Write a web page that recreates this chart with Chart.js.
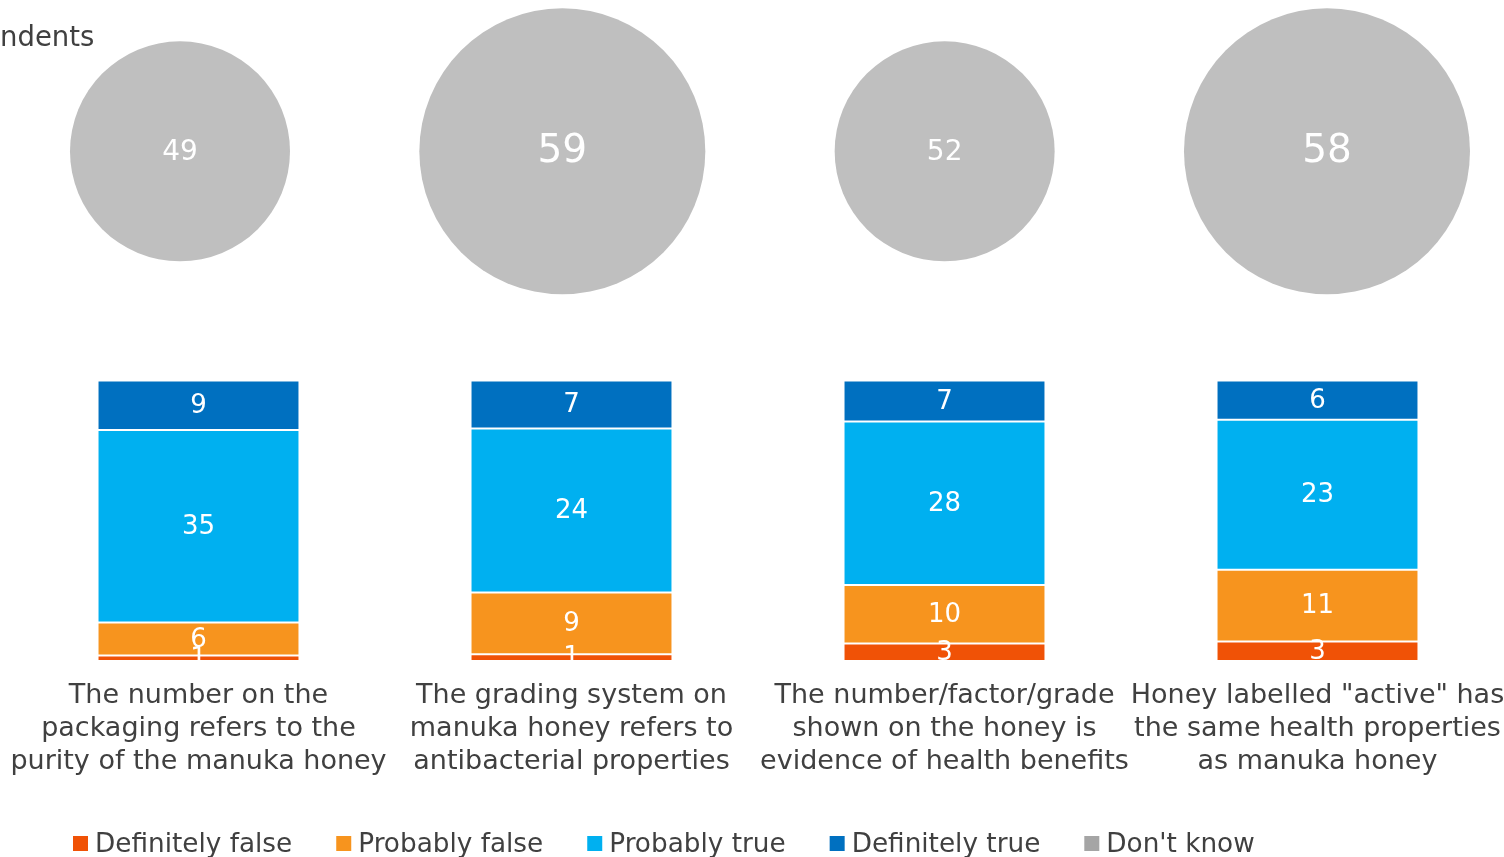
<!DOCTYPE html>
<html>
<head>
<meta charset="utf-8">
<script src="https://cdn.jsdelivr.net/npm/chart.js@4.4.1/dist/chart.umd.min.js"></script>
<style>
  html, body { margin: 0; padding: 0; background: #fff; overflow: hidden; }
  #wrap { width: 1504px; height: 857px; }
</style>
</head>
<body>
<div id="wrap"><canvas id="chart" width="1504" height="857"></canvas></div>
<script>
// statements (x axis categories)
let statements = [
  ['The number on the', 'packaging refers to the', 'purity of the manuka honey'],
  ['The grading system on', 'manuka honey refers to', 'antibacterial properties'],
  ['The number/factor/grade', 'shown on the honey is', 'evidence of health benefits'],
  ['Honey labelled "active" has', 'the same health properties', 'as manuka honey']
];

// answers, number of respondents
let definitelyFalse = [1, 1, 3, 3];
let probablyFalse = [6, 9, 10, 11];
let probablyTrue = [35, 24, 28, 23];
let definitelyTrue = [9, 7, 7, 6];
let dontKnow = [49, 59, 52, 58];

let seriesNames = ['Definitely false', 'Probably false', 'Probably true', 'Definitely true', "Don't know"];
let axisTitle = 'ndents';

const FONT = "'DejaVu Sans', Verdana, sans-serif";
const TEXT = '#404040';

// bars are drawn as share of the "known" answers (100% stacked)
let totals = statements.map((s, i) => definitelyFalse[i] + probablyFalse[i] + probablyTrue[i] + definitelyTrue[i]);
let pct = arr => arr.map((v, i) => v / totals[i] * 100);

// bubble size: two size classes like the original
let circleRadius = v => v >= 55 ? 143 : 110;

function barSet(name, counts, color) {
  return {
    label: name,
    data: pct(counts),
    counts: counts,
    backgroundColor: color,
    borderColor: 'rgba(255,255,255,0.3)',
    borderWidth: 1,
    borderSkipped: false,
    grouped: false,
    categoryPercentage: 1,
    barPercentage: 0.5414,
    xAxisID: 'x',
    yAxisID: 'y'
  };
}

// white numbers on bars and circles
let valueLabels = {
  id: 'valueLabels',
  afterDatasetsDraw(chart) {
    let ctx = chart.ctx;
    let area = chart.chartArea;
    ctx.save();
    ctx.fillStyle = '#fff';
    ctx.textAlign = 'center';
    ctx.textBaseline = 'middle';
    chart.data.datasets.forEach((ds, di) => {
      let meta = chart.getDatasetMeta(di);
      meta.data.forEach((el, i) => {
        if (ds.type === 'bubble') {
          let r = el.options.radius;
          ctx.font = Math.round(28 + (r - 110) / 3) + 'px ' + FONT;
          ctx.fillText(ds.counts[i], el.x, el.y + 1);
        } else {
          ctx.save();
          ctx.beginPath();
          ctx.rect(area.left, area.top, area.right - area.left, area.bottom - area.top);
          ctx.clip();
          ctx.font = '26px ' + FONT;
          ctx.fillText(ds.counts[i], el.x, (el.y + el.base) / 2 + 1);
          ctx.restore();
        }
      });
    });
    ctx.restore();
  }
};

// legend row + cut-off axis title
let bottomLegend = {
  id: 'bottomLegend',
  afterDraw(chart) {
    let ctx = chart.ctx;
    ctx.save();
    ctx.font = '26.3px ' + FONT;
    ctx.textBaseline = 'alphabetic';
    ctx.textAlign = 'left';
    let x = 73;
    chart.data.datasets.forEach(ds => {
      ctx.fillStyle = ds.legendColor || ds.backgroundColor;
      ctx.fillRect(x, 836, 15, 15);
      ctx.fillStyle = TEXT;
      ctx.fillText(ds.label, x + 22, 852);
      x += 22 + ctx.measureText(ds.label).width + 44;
    });
    ctx.font = '27.5px ' + FONT;
    ctx.textBaseline = 'middle';
    ctx.fillText(axisTitle, 0, 39);
    ctx.restore();
  }
};

let chart = new Chart(document.getElementById('chart'), {
  type: 'bar',
  data: {
    labels: statements,
    datasets: [
      barSet(seriesNames[0], definitelyFalse, '#F05206'),
      barSet(seriesNames[1], probablyFalse, '#F7941E'),
      barSet(seriesNames[2], probablyTrue, '#00B0F0'),
      barSet(seriesNames[3], definitelyTrue, '#0070C0'),
      {
        type: 'bubble',
        label: seriesNames[4],
        data: dontKnow.map((v, i) => ({ x: i, y: 0.771 })),
        counts: dontKnow,
        backgroundColor: '#BFBFBF',
        legendColor: '#A5A5A5',
        borderWidth: 0,
        radius: ctx => circleRadius(dontKnow[ctx.dataIndex]),
        clip: false,
        xAxisID: 'xb',
        yAxisID: 'yb'
      }
    ]
  },
  options: {
    responsive: false,
    animation: false,
    events: [],
    layout: { autoPadding: false, padding: { left: 12, right: 0, top: 0, bottom: 61 } },
    plugins: {
      legend: { display: false },
      tooltip: { enabled: false }
    },
    scales: {
      x: {
        type: 'category',
        stacked: true,
        grid: { display: false, drawTicks: false },
        border: { display: false },
        ticks: {
          color: TEXT,
          font: { family: FONT, size: 27, lineHeight: 33 / 27 },
          padding: 18,
          maxRotation: 0,
          autoSkip: false
        },
        // labels may run past the edges, like the original
        afterFit: s => { s.paddingLeft = 0; s.paddingRight = 0; }
      },
      y: { stacked: true, min: 0, max: 235.71, display: false },
      xb: { type: 'linear', offset: false, min: -0.4394, max: 3.463, display: false },
      yb: { type: 'linear', min: 0, max: 1, display: false }
    }
  },
  plugins: [valueLabels, bottomLegend]
});
</script>
</body>
</html>
